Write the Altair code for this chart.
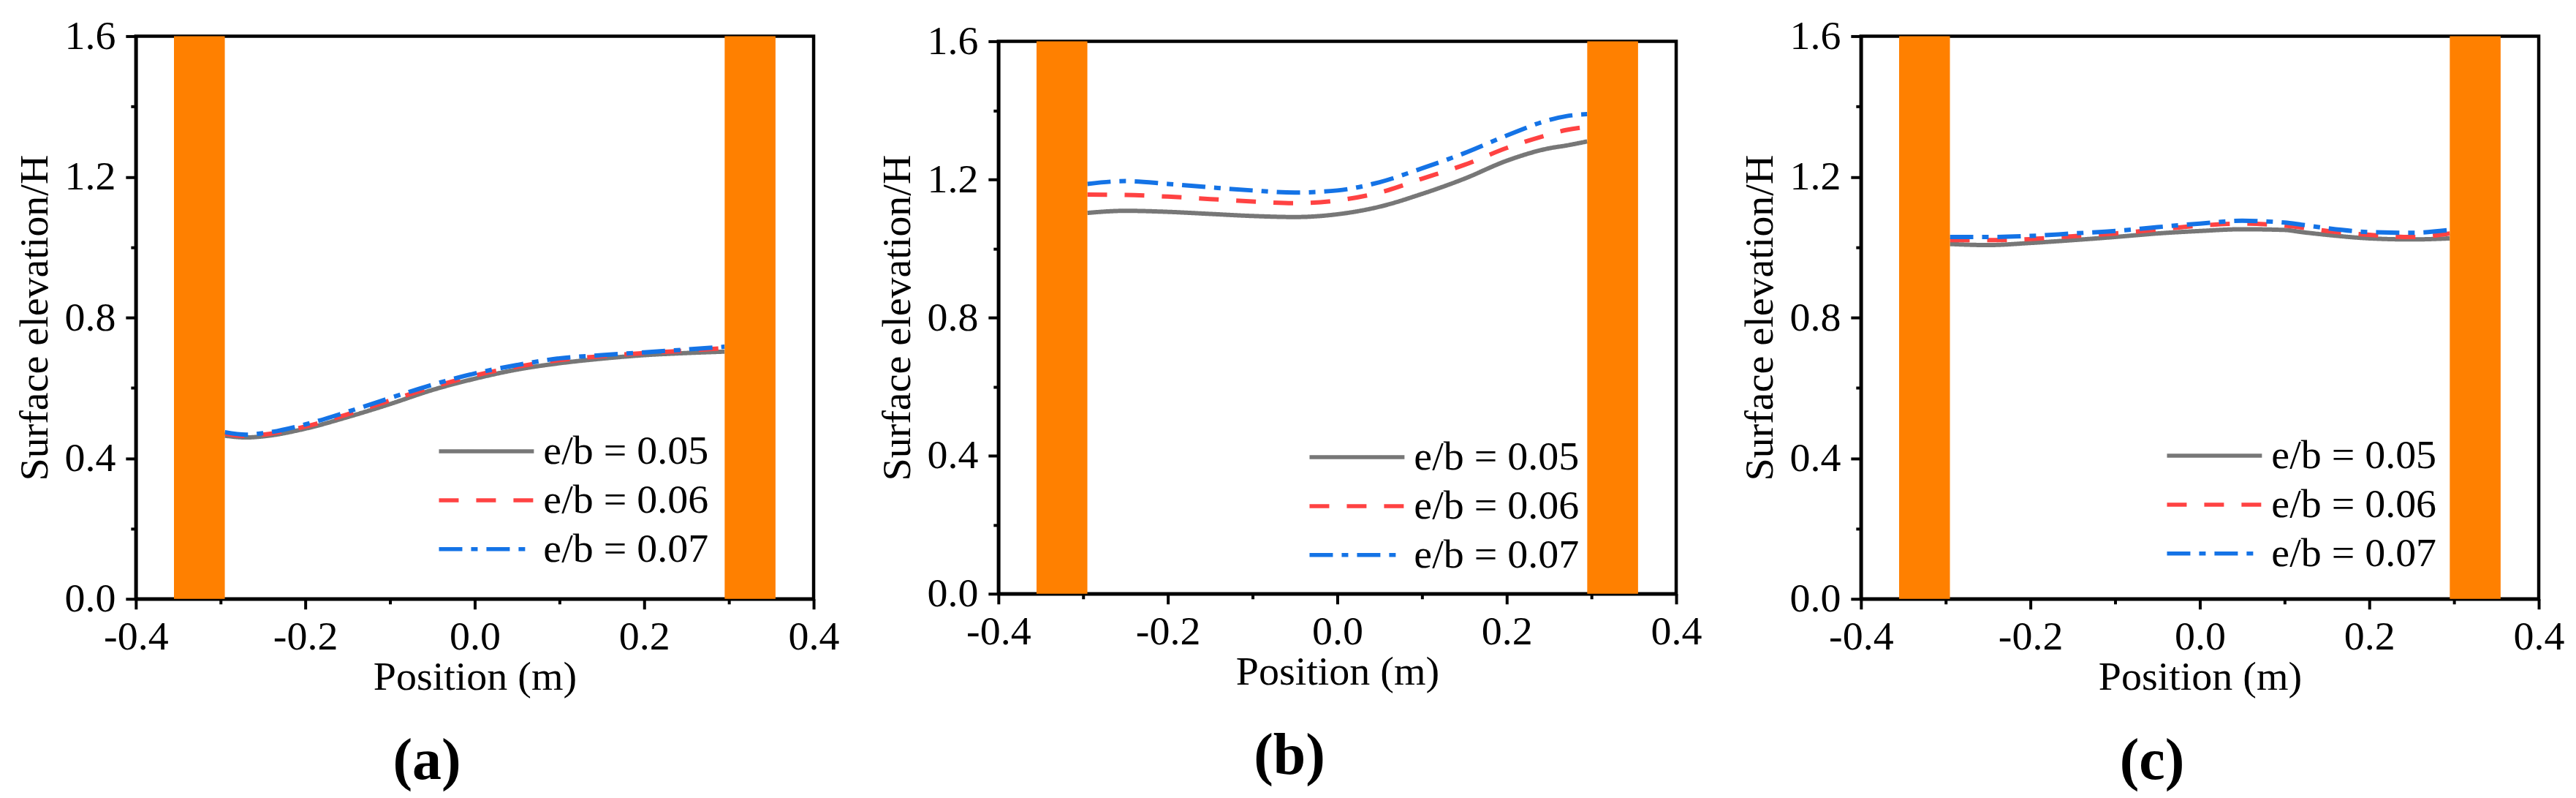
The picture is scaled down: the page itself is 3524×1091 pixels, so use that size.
import altair as alt
import pandas as pd

FONT = "Liberation Serif"

series_names = ["e/b = 0.05", "e/b = 0.06", "e/b = 0.07"]
series_colors = ["#777777", "#FF4242", "#1473E6"]
series_dashes = [[1, 0], [27, 24], [32, 12, 9, 12]]

# (a)
pos_a = [-0.295, -0.27, -0.25, -0.2, -0.15, -0.1, -0.05, 0.0, 0.05, 0.1, 0.15, 0.2, 0.25, 0.295]
a_005 = [0.464, 0.459, 0.462, 0.484, 0.517, 0.554, 0.594, 0.626, 0.652, 0.670, 0.683, 0.693, 0.699, 0.703]
a_006 = [0.470, 0.463, 0.467, 0.490, 0.525, 0.564, 0.602, 0.635, 0.660, 0.679, 0.690, 0.699, 0.706, 0.713]
a_007 = [0.474, 0.467, 0.471, 0.496, 0.532, 0.571, 0.609, 0.641, 0.665, 0.684, 0.693, 0.701, 0.709, 0.717]

# (b)
pos_b = [-0.295, -0.25, -0.2, -0.15, -0.1, -0.05, 0.0, 0.05, 0.1, 0.15, 0.2, 0.25, 0.27, 0.295]
b_005 = [1.103, 1.109, 1.106, 1.100, 1.094, 1.091, 1.099, 1.121, 1.158, 1.202, 1.254, 1.290, 1.298, 1.310]
b_006 = [1.156, 1.155, 1.150, 1.143, 1.136, 1.131, 1.139, 1.162, 1.202, 1.242, 1.291, 1.330, 1.343, 1.352]
b_007 = [1.187, 1.195, 1.187, 1.177, 1.168, 1.162, 1.168, 1.192, 1.232, 1.276, 1.327, 1.372, 1.383, 1.389]

# (c)
pos_c = [-0.295, -0.25, -0.2, -0.15, -0.1, -0.05, 0.0, 0.05, 0.1, 0.12, 0.15, 0.2, 0.25, 0.295]
c_005 = [1.009, 1.006, 1.012, 1.020, 1.029, 1.039, 1.046, 1.051, 1.049, 1.043, 1.035, 1.025, 1.022, 1.025]
c_006 = [1.020, 1.020, 1.023, 1.031, 1.039, 1.050, 1.061, 1.067, 1.061, 1.056, 1.046, 1.035, 1.029, 1.039]
c_007 = [1.029, 1.029, 1.032, 1.039, 1.046, 1.057, 1.067, 1.075, 1.070, 1.064, 1.054, 1.043, 1.041, 1.049]

# side walls (orange blocks)
wall_x1 = [-0.355, 0.295]
wall_x2 = [-0.295, 0.355]
wall_y1 = [0.0, 0.0]
wall_y2 = [1.6, 1.6]

x_ticks = [-0.4, -0.3, -0.2, -0.1, 0.0, 0.1, 0.2, 0.3, 0.4]
y_ticks = [0.0, 0.2, 0.4, 0.6, 0.8, 1.0, 1.2, 1.4, 1.6]


def long_frame(pos, *series):
    rows = []
    for name, vals in zip(series_names, series):
        for p, v in zip(pos, vals):
            rows.append({"position": p, "elevation": v, "case": name})
    return pd.DataFrame(rows)


walls = pd.DataFrame({"x1": wall_x1, "x2": wall_x2, "y1": wall_y1, "y2": wall_y2})

x_scale = alt.Scale(domain=[-0.4, 0.4], nice=False, zero=False)
y_scale = alt.Scale(domain=[0, 1.6], nice=False)

# major ticks labelled and long, minor ticks short and blank
x_axis = alt.Axis(
    values=x_ticks,
    labelExpr="round(datum.value*10) % 2 == 0 ? (datum.value < -0.001 ? '-' : '') + format(abs(datum.value), '.1f') : ''",
    tickSize={"condition": {"test": "round(datum.value*10) % 2 == 0", "value": 14}, "value": 7},
)
y_axis = alt.Axis(
    values=y_ticks,
    labelExpr="round(datum.value*5) % 2 == 0 ? format(datum.value, '.1f') : ''",
    tickSize={"condition": {"test": "round(datum.value*5) % 2 == 0", "value": 14}, "value": 7},
)


def panel(df, caption, height, legend_x, legend_y):
    legend = alt.Legend(title=None, orient="none", legendX=legend_x, legendY=legend_y)
    lines = alt.Chart(df).mark_line(strokeWidth=6, interpolate="monotone").encode(
        x=alt.X("position:Q", scale=x_scale, axis=x_axis, title="Position (m)"),
        y=alt.Y("elevation:Q", scale=y_scale, axis=y_axis, title="Surface elevation/H"),
        color=alt.Color("case:N", scale=alt.Scale(domain=series_names, range=series_colors), legend=legend),
        strokeDash=alt.StrokeDash("case:N", scale=alt.Scale(domain=series_names, range=series_dashes), legend=legend),
    )
    blocks = alt.Chart(walls).mark_rect(color="#FF8000").encode(
        x=alt.X("x1:Q", scale=x_scale, axis=x_axis, title="Position (m)"),
        x2="x2:Q",
        y=alt.Y("y1:Q", scale=y_scale, axis=y_axis, title="Surface elevation/H"),
        y2="y2:Q",
    )
    return alt.layer(lines, blocks).properties(
        width=928,
        height=height,
        title=alt.TitleParams(
            text=caption, orient="bottom", anchor="middle", frame="bounds",
            font=FONT, fontSize=80, fontWeight="bold", color="black", offset=48,
        ),
    )


pa = panel(long_frame(pos_a, a_005, a_006, a_007), "(a)", 770, 412, 540)
pb = panel(long_frame(pos_b, b_005, b_006, b_007), "(b)", 756, 423, 541)
pc = panel(long_frame(pos_c, c_005, c_006, c_007), "(c)", 770, 416, 546)

chart = alt.hconcat(pa, pb, pc, spacing=253, bounds="flush", center=True).resolve_scale(
    color="independent", strokeDash="independent"
).configure_view(
    stroke="black", strokeWidth=4.5
).configure_axis(
    domainColor="black", domainWidth=4.5, tickColor="black", tickWidth=4,
    labelFont=FONT, labelFontSize=56, labelColor="black", labelFlush=False, labelOverlap=False,
    titleFont=FONT, titleFontSize=56, titleFontWeight="normal", titleColor="black", grid=False,
).configure_axisX(
    labelPadding=11, titlePadding=0
).configure_axisY(
    labelPadding=14, titlePadding=11
).configure_legend(
    labelFont=FONT, labelFontSize=56, labelColor="black", labelLimit=400,
    symbolType="stroke", symbolSize=16900, symbolStrokeWidth=5.5,
    padding=0, rowPadding=11, clipHeight=56, labelOffset=10, symbolOffset=0,
).properties(
    padding={"left": 9, "top": 10, "right": 5, "bottom": 5}
)

chart.save("out.html", embed_options={"renderer": "svg", "actions": False})
